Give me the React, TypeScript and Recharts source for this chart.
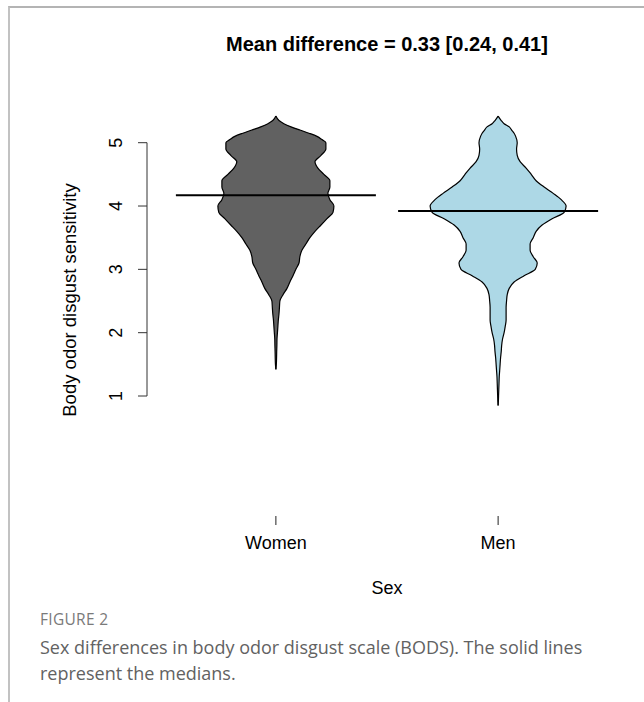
import { Area, ComposedChart, ReferenceLine, XAxis, YAxis } from 'recharts'

const groups = ['Women', 'Men']
const groupPositions = [1, 2]
const medians = [4.17, 3.92]
const yTicks = [1, 2, 3, 4, 5]

// bean outlines: score level and half width of the bean (in x-axis units)
const womenLevels = [
  1.42, 1.5, 1.6, 1.7, 1.8, 1.9, 2.0, 2.1, 2.2, 2.3, 2.4, 2.5, 2.6, 2.7, 2.8, 2.9, 3.0, 3.1, 3.2, 3.3, 3.4, 3.5,
  3.6, 3.7, 3.8, 3.9, 4.0, 4.1, 4.2, 4.3, 4.4, 4.5, 4.6, 4.7, 4.8, 4.9, 5.0, 5.05, 5.1, 5.15, 5.2, 5.25, 5.3,
  5.35, 5.42,
]
const womenHalfWidths = [
  0, 0.002, 0.003, 0.0036, 0.0045, 0.005, 0.007, 0.009, 0.011, 0.014, 0.016, 0.018, 0.032, 0.05, 0.063, 0.077,
  0.09, 0.104, 0.108, 0.117, 0.135, 0.153, 0.176, 0.203, 0.23, 0.257, 0.261, 0.243, 0.234, 0.243, 0.243, 0.216,
  0.189, 0.176, 0.203, 0.225, 0.225, 0.207, 0.185, 0.149, 0.108, 0.068, 0.036, 0.014, 0,
]
const menLevels = [
  0.85, 0.9, 1.0, 1.1, 1.2, 1.3, 1.4, 1.5, 1.6, 1.7, 1.8, 1.9, 2.0, 2.1, 2.2, 2.3, 2.4, 2.5, 2.6, 2.7, 2.8, 2.9,
  3.0, 3.1, 3.2, 3.3, 3.4, 3.5, 3.6, 3.7, 3.8, 3.9, 4.0, 4.1, 4.2, 4.3, 4.4, 4.5, 4.6, 4.7, 4.8, 4.9, 5.0, 5.1,
  5.15, 5.2, 5.25, 5.3, 5.35, 5.42,
]
const menHalfWidths = [
  0, 0.001, 0.002, 0.003, 0.004, 0.005, 0.007, 0.009, 0.011, 0.014, 0.016, 0.02, 0.027, 0.032, 0.036, 0.036,
  0.036, 0.038, 0.041, 0.05, 0.072, 0.117, 0.167, 0.176, 0.158, 0.144, 0.144, 0.158, 0.171, 0.198, 0.243, 0.297,
  0.306, 0.284, 0.248, 0.207, 0.171, 0.149, 0.126, 0.099, 0.086, 0.083, 0.086, 0.079, 0.072, 0.061, 0.05, 0.027,
  0.014, 0,
]

const medianHalfLength = 0.45

const womenBean = womenLevels.map((y, i) => ({
  y,
  range: [groupPositions[0] - womenHalfWidths[i], groupPositions[0] + womenHalfWidths[i]],
}))
const menBean = menLevels.map((y, i) => ({
  y,
  range: [groupPositions[1] - menHalfWidths[i], groupPositions[1] + menHalfWidths[i]],
}))

const rFont = '"Liberation Sans", Arial, sans-serif'
const captionFont = '"Open Sans", "Noto Sans", sans-serif'

function YTick({ x, y, payload }: any) {
  return (
    <text
      x={x}
      y={y}
      transform={`rotate(-90 ${x} ${y})`}
      textAnchor="middle"
      fontSize={18}
      fontFamily={rFont}
      fill="#000"
    >
      {payload.value}
    </text>
  )
}

function XTick({ x, y, payload }: any) {
  const idx = groupPositions.indexOf(payload.value)
  return (
    <text x={x} y={y} dy="0.71em" textAnchor="middle" fontSize={18} fontFamily={rFont} fill="#000">
      {groups[idx]}
    </text>
  )
}

export default function App() {
  return (
    <div style={{ position: 'absolute', left: 0, top: 0, width: 644, height: 702, background: '#fff' }}>
      <div
        style={{
          position: 'absolute',
          left: 8,
          top: 6,
          width: 636,
          height: 696,
          borderTop: '2px solid #b4b4b4',
          borderLeft: '2px solid #c2c2c2',
        }}
      />
      <div
        style={{
          position: 'absolute',
          left: 187,
          width: 400,
          top: 31,
          textAlign: 'center',
          fontFamily: rFont,
          fontWeight: 700,
          fontSize: 20,
          lineHeight: '26px',
          color: '#000',
        }}
      >
        Mean difference = 0.33 [0.24, 0.41]
      </div>
      <div style={{ position: 'absolute', left: 0, top: 0 }}>
        <ComposedChart
          width={644}
          height={620}
          layout="vertical"
          margin={{ top: 84, right: 17, bottom: 74, left: 87 }}
        >
          <XAxis
            type="number"
            dataKey="range"
            domain={[0.42, 2.58]}
            allowDataOverflow
            ticks={groupPositions}
            axisLine={false}
            tickLine={{ stroke: '#222' }}
            tickSize={9}
            tickMargin={11}
            height={30}
            tick={<XTick />}
            interval={0}
          />
          <YAxis
            type="number"
            dataKey="y"
            domain={[-0.895, 5.927]}
            allowDataOverflow
            reversed
            ticks={yTicks}
            axisLine={false}
            tickLine={{ stroke: '#333' }}
            tickSize={9}
            tickMargin={16}
            width={60}
            tick={<YTick />}
            interval={0}
          />
          <ReferenceLine
            segment={[
              { x: 0.42, y: 1 },
              { x: 0.42, y: 5 },
            ]}
            stroke="#333"
            strokeWidth={1}
          />
          <Area
            data={womenBean}
            dataKey="range"
            type="monotone"
            fill="#616161"
            fillOpacity={1}
            stroke="#000"
            strokeWidth={1.2}
            dot={false}
            activeDot={false}
            isAnimationActive={false}
          />
          <Area
            data={menBean}
            dataKey="range"
            type="monotone"
            fill="#add8e6"
            fillOpacity={1}
            stroke="#000"
            strokeWidth={1.2}
            dot={false}
            activeDot={false}
            isAnimationActive={false}
          />
          {groupPositions.map((pos, i) => (
            <ReferenceLine
              key={groups[i]}
              segment={[
                { x: pos - medianHalfLength, y: medians[i] },
                { x: pos + medianHalfLength, y: medians[i] },
              ]}
              stroke="#000"
              strokeWidth={2}
            />
          ))}
        </ComposedChart>
      </div>
      <div
        style={{
          position: 'absolute',
          left: 70 - 150,
          top: 300 - 12,
          width: 300,
          height: 24,
          lineHeight: '24px',
          textAlign: 'center',
          transform: 'rotate(-90deg)',
          fontFamily: rFont,
          fontSize: 18.5,
          color: '#000',
        }}
      >
        Body odor disgust sensitivity
      </div>
      <div
        style={{
          position: 'absolute',
          left: 287,
          width: 200,
          top: 576,
          lineHeight: '24px',
          textAlign: 'center',
          fontFamily: rFont,
          fontSize: 18,
          color: '#000',
        }}
      >
        Sex
      </div>
      <div
        style={{
          position: 'absolute',
          left: 40,
          top: 608,
          lineHeight: '22px',
          fontFamily: captionFont,
          fontSize: 15.5,
          color: '#7a7a7a',
          letterSpacing: 0.3,
        }}
      >
        FIGURE 2
      </div>
      <div
        style={{
          position: 'absolute',
          left: 40,
          top: 634,
          width: 592,
          lineHeight: '26px',
          fontFamily: captionFont,
          fontSize: 18,
          color: '#626262',
        }}
      >
        Sex differences in body odor disgust scale (BODS). The solid lines represent the medians.
      </div>
    </div>
  )
}
